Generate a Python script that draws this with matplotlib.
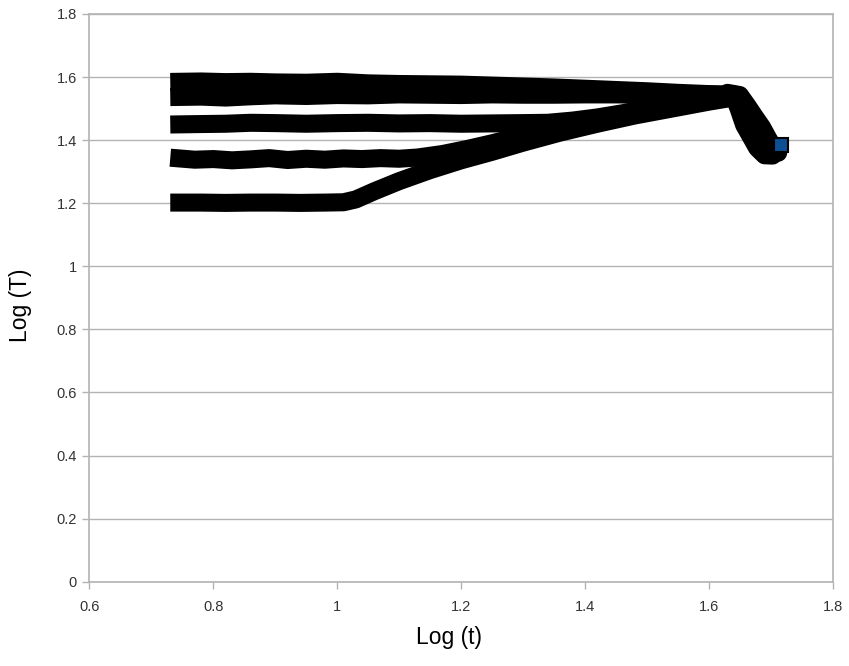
import matplotlib
matplotlib.use("Agg")
import matplotlib.pyplot as plt

# ---- data (Log t, Log T) ----
run_a_x = [0.745, 0.78, 0.82, 0.86, 0.90, 0.95, 1.00, 1.05, 1.10, 1.15, 1.20,
           1.25, 1.30, 1.35, 1.40, 1.45, 1.50, 1.55, 1.60, 1.63]
run_a_y = [1.585, 1.586, 1.584, 1.585, 1.583, 1.582, 1.585, 1.580, 1.578, 1.577,
           1.576, 1.573, 1.570, 1.567, 1.563, 1.559, 1.555, 1.550, 1.546, 1.543]

run_b_x = [0.745, 0.78, 0.82, 0.86, 0.90, 0.95, 1.00, 1.05, 1.10, 1.15, 1.20,
           1.25, 1.30, 1.35, 1.40, 1.45, 1.50, 1.55, 1.60, 1.63]
run_b_y = [1.537, 1.538, 1.535, 1.539, 1.542, 1.540, 1.543, 1.542, 1.545, 1.544,
           1.543, 1.545, 1.544, 1.544, 1.545, 1.545, 1.544, 1.545, 1.545, 1.545]

run_c_x = [0.745, 0.78, 0.82, 0.86, 0.90, 0.95, 1.00, 1.05, 1.10, 1.15, 1.20,
           1.25, 1.30, 1.34, 1.38, 1.42, 1.46, 1.50, 1.55, 1.60, 1.63]
run_c_y = [1.450, 1.451, 1.452, 1.455, 1.454, 1.452, 1.454, 1.455, 1.453, 1.454,
           1.452, 1.453, 1.454, 1.455, 1.462, 1.472, 1.485, 1.500, 1.515, 1.532,
           1.542]

run_d_x = [0.745, 0.77, 0.80, 0.83, 0.86, 0.89, 0.92, 0.95, 0.98, 1.01, 1.04,
           1.07, 1.10, 1.13, 1.17, 1.21, 1.25, 1.29, 1.33, 1.38, 1.44, 1.50,
           1.56, 1.61, 1.63]
run_d_y = [1.342, 1.338, 1.340, 1.336, 1.339, 1.343, 1.337, 1.341, 1.338, 1.342,
           1.340, 1.343, 1.341, 1.345, 1.356, 1.372, 1.390, 1.410, 1.428, 1.446,
           1.468, 1.490, 1.512, 1.532, 1.540]

run_e_x = [0.745, 0.78, 0.82, 0.86, 0.90, 0.94, 0.98, 1.01, 1.03, 1.06, 1.10,
           1.15, 1.20, 1.25, 1.30, 1.36, 1.42, 1.48, 1.54, 1.60, 1.64]
run_e_y = [1.202, 1.202, 1.201, 1.202, 1.202, 1.201, 1.202, 1.203, 1.212, 1.238,
           1.270, 1.305, 1.336, 1.363, 1.392, 1.424, 1.452, 1.478, 1.500, 1.522,
           1.535]

tail_l_x = [1.630, 1.640, 1.648, 1.657, 1.668, 1.678, 1.690, 1.703]
tail_l_y = [1.545, 1.540, 1.500, 1.448, 1.410, 1.375, 1.352, 1.351]

tail_r_x = [1.630, 1.650, 1.662, 1.674, 1.686, 1.696, 1.705, 1.712]
tail_r_y = [1.550, 1.543, 1.510, 1.475, 1.441, 1.405, 1.375, 1.360]

last_x = [1.717]
last_y = [1.384]

x_ticks = [0.6, 0.8, 1.0, 1.2, 1.4, 1.6, 1.8]
y_ticks = [0, 0.2, 0.4, 0.6, 0.8, 1.0, 1.2, 1.4, 1.6, 1.8]

runs = [(run_a_x, run_a_y), (run_b_x, run_b_y), (run_c_x, run_c_y),
        (run_d_x, run_d_y), (run_e_x, run_e_y),
        (tail_l_x, tail_l_y), (tail_r_x, tail_r_y)]

plt.rcParams["font.family"] = ["Liberation Sans", "DejaVu Sans"]

fig = plt.figure(figsize=(8.49, 6.66), dpi=100)
ax = fig.add_axes([0.1054, 0.1266, 0.8754, 0.8524])

grid_c = "#b3b3b3"
for i, (xs, ys) in enumerate(runs):
    ax.plot(xs, ys, color="black", lw=13,
            solid_capstyle="projecting" if i < 5 else "round",
            solid_joinstyle="round", zorder=3)
ax.plot(last_x, last_y, linestyle="none", marker="s", ms=9.5,
        mfc="#0d4f92", mec="black", mew=1.5, zorder=4)

ax.set_xlim(0.6, 1.8)
ax.set_ylim(0, 1.8)
ax.set_xticks(x_ticks)
ax.set_yticks(y_ticks)
ax.set_xticklabels([f"{v:g}" for v in x_ticks])
ax.set_yticklabels([f"{v:g}" for v in y_ticks])

ax.yaxis.grid(True, color=grid_c, lw=1.0)
ax.xaxis.grid(False)
ax.set_axisbelow(True)
for s in ax.spines.values():
    s.set_color(grid_c)
    s.set_linewidth(1.2)
ax.tick_params(axis="both", colors=grid_c, length=5, width=1,
               labelcolor="#333333", labelsize=10.5)
ax.tick_params(axis="y", pad=4)
ax.tick_params(axis="x", pad=8)

ax.set_xlabel("Log (t)", fontsize=16.5, color="black")
ax.set_ylabel("Log (T)", fontsize=16.5, color="black")
ax.xaxis.set_label_coords(0.484, -0.078)
ax.yaxis.set_label_coords(-0.078, 0.487)

fig.savefig("out.png", dpi=100)
